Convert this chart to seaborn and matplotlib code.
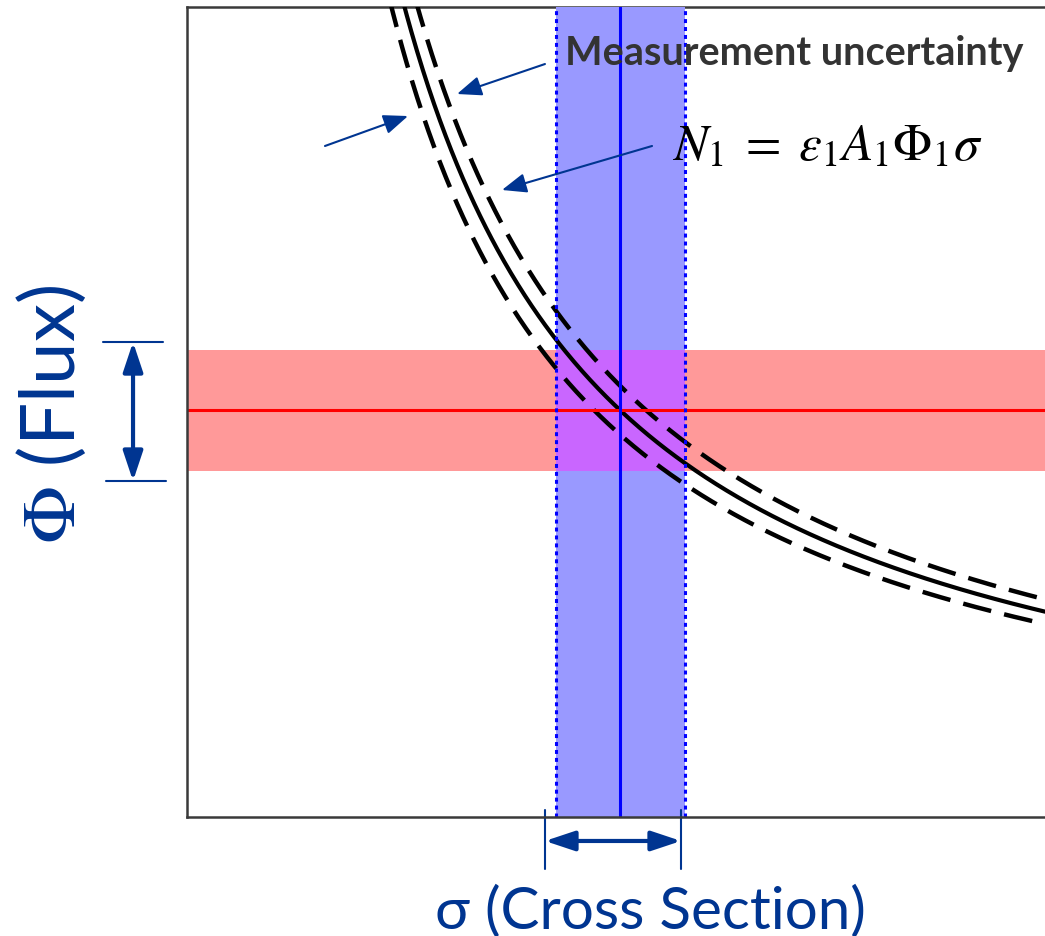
import numpy as np
import pandas as pd
import matplotlib
matplotlib.use("Agg")
import matplotlib.pyplot as plt
import seaborn as sns

# Measured quantities (normalised axes units)
sigma_center = 0.505        # cross section
sigma_halfwidth = 0.0755
phi_center = 0.502          # flux
phi_halfwidth = 0.0747
rel_uncertainty = 0.06      # measurement uncertainty on N1

# Curve labels
curve_names = ["N1 (1 + δ)", "N1", "N1 (1 − δ)"]
curve_scale = [1 + rel_uncertainty, 1.0, 1 - rel_uncertainty]

label_x = "σ (Cross Section)"
label_y = r"$\Phi$ (Flux)"
note_text = "Measurement uncertainty"
equation_text = r"$N_1\;=\;\varepsilon_1 A_1 \Phi_1 \sigma$"

sns.set_theme(style="white")
plt.rcParams["font.family"] = ["Lato", "DejaVu Sans"]
plt.rcParams["mathtext.fontset"] = "stix"

W, H = 1045, 937
fig = plt.figure(figsize=(W / 100, H / 100), dpi=100)
ax = fig.add_axes([187 / W, (H - 818) / H, (W - 187) / W, 810 / H])
ax.set_xlim(0, 1)
ax.set_ylim(0, 1)
ax.set_xticks([])
ax.set_yticks([])

# Hyperbola N1 = Φσ and its uncertainty band
n1 = sigma_center * phi_center
sig = np.linspace(0.2, 1.0, 600)
frames = []
for name, s in zip(curve_names, curve_scale):
    frames.append(pd.DataFrame({"sigma": sig, "phi": n1 * s / sig, "curve": name}))
curves = pd.concat(frames, ignore_index=True)
curves = curves[curves["phi"] <= 1.02]

sns.lineplot(data=curves[curves["curve"] == "N1"], x="sigma", y="phi",
             color="black", lw=3, ax=ax, zorder=3, estimator=None, sort=False)
for name in (curve_names[0], curve_names[2]):
    sns.lineplot(data=curves[curves["curve"] == name], x="sigma", y="phi",
                 color="black", lw=3.2, ax=ax, zorder=3, estimator=None, sort=False,
                 linestyle=(0, (6.5, 3.0)))
ax.set_xlabel("")
ax.set_ylabel("")

# Shaded uncertainty bands
s_lo, s_hi = sigma_center - sigma_halfwidth, sigma_center + sigma_halfwidth
p_lo, p_hi = phi_center - phi_halfwidth, phi_center + phi_halfwidth
ax.axhspan(p_lo, p_hi, color="#FF9999", lw=0, zorder=1)
ax.axvspan(s_lo, s_hi, color="#9999FF", lw=0, zorder=1)
ax.fill_between([s_lo, s_hi], p_lo, p_hi, color="#C966FF", lw=0, zorder=1.5)

ax.axhline(phi_center, color="#FF0000", lw=2.2, zorder=3.5)
ax.axvline(sigma_center, color="#0000FF", lw=2.2, zorder=4)
for xv in (s_lo, s_hi):
    ax.axvline(xv, color="#0000FF", lw=2.2, ls=(0, (1.3, 1.3)), zorder=4)

# Frame
for side in ("left", "top", "bottom"):
    ax.spines[side].set_color("#3a3a3a")
    ax.spines[side].set_linewidth(1.8)
ax.spines["right"].set_visible(False)
ax.spines["top"].set_zorder(0.5)
ax.spines["left"].set_zorder(5)
ax.spines["bottom"].set_zorder(5)

navy = "#003591"
arrow_kw = dict(arrowstyle="-|>,head_length=0.75,head_width=0.3", mutation_scale=20,
                lw=1.5, color=navy, shrinkA=0, shrinkB=0)

# Pointers to the uncertainty curves
for tail, head in [((0.4172, 0.9296), (0.3147, 0.8926)),
                   ((0.1608, 0.8284), (0.2576, 0.8654)),
                   ((0.5420, 0.8284), (0.3671, 0.7741))]:
    ax.annotate("", xy=head, xytext=tail, arrowprops=arrow_kw,
                annotation_clip=False, zorder=6)

ax.text(0.4406, 0.9296, note_text, fontsize=28.5, fontweight="bold",
        color="#333333", ha="left", va="baseline", zorder=7)
ax.text(0.5653, 0.8123, equation_text, fontsize=37, color="black",
        ha="left", va="baseline", zorder=7)

# Width markers outside the frame
dbl_kw = dict(arrowstyle="<|-|>,head_length=0.9,head_width=0.3", mutation_scale=20,
              lw=3, color=navy, shrinkA=0, shrinkB=0)
ax.annotate("", xy=(-0.0629, 0.5864), xytext=(-0.0629, 0.4148),
            arrowprops=dbl_kw, annotation_clip=False)
ax.plot([-0.0979, -0.0280], [0.5864, 0.5864], color=navy, lw=1.5, clip_on=False)
ax.plot([-0.0944, -0.0245], [0.4148, 0.4148], color=navy, lw=1.5, clip_on=False)

ax.annotate("", xy=(0.4172, -0.0296), xytext=(0.5758, -0.0296),
            arrowprops=dbl_kw, annotation_clip=False)
ax.plot([0.4172, 0.4172], [0.0086, -0.0642], color=navy, lw=1.5, clip_on=False)
ax.plot([0.5758, 0.5758], [0.0086, -0.0642], color=navy, lw=1.5, clip_on=False)

# Axis titles
fig.text(650 / W, 1 - 928 / H, label_x, fontsize=42, color=navy,
         ha="center", va="baseline")
fig.text(51 / W, 1 - 415 / H, label_y, fontsize=55, color=navy,
         ha="center", va="center", rotation=90)

fig.savefig("out.png", dpi=100)
